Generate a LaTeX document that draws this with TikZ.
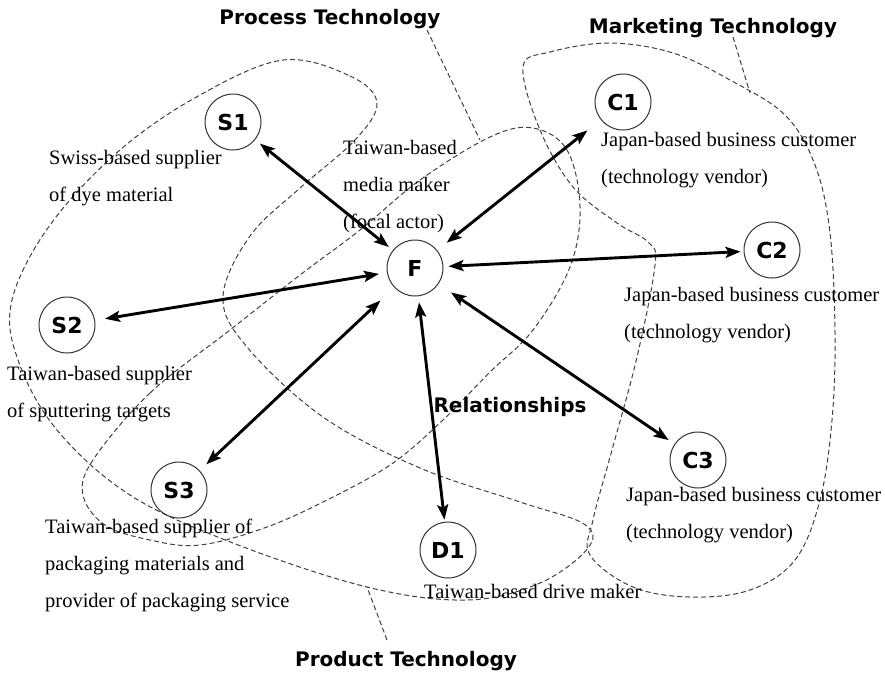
\documentclass[tikz,border=0pt]{standalone}
\usepackage{fontspec}
\setmainfont{Liberation Serif}
\setsansfont{DejaVu Sans}
\usetikzlibrary{arrows.meta}
\begin{document}
\begin{tikzpicture}[x=1pt,y=-1pt,
  actor/.style={circle,draw=black!80,line width=1pt,minimum size=56pt,inner sep=0pt,font=\fontsize{22}{22}\selectfont\sffamily\bfseries},
  desc/.style={anchor=base west,align=left,inner sep=0pt,font=\fontsize{20.5}{37}\selectfont},
  area/.style={draw=black!75,line width=1pt,dash pattern=on 5pt off 3pt},
  title/.style={anchor=base,inner sep=0pt,font=\fontsize{20}{20}\selectfont\sffamily\bfseries},
  rel/.style={line width=2.9pt,{Stealth[length=15pt,width=11pt,inset=3pt]}-{Stealth[length=15pt,width=11pt,inset=3pt]}}
]
\useasboundingbox (0,0) rectangle (885,672);

% technology areas
\path[area] plot[smooth cycle,tension=0.6] coordinates {
  (283,60) (350,76) (377,103) (355,140) (300,188) (250,236) (223,297) (247,347)
  (323,417) (420,468) (520,502) (584,524) (588,548) (540,583) (467,600) (367,587)
  (233,543) (130,495) (57,430) (18,360) (12,300) (50,225) (120,150) (200,95)};
\path[area] plot[smooth cycle,tension=0.6] coordinates {
  (93,460) (150,393) (230,330) (300,275) (360,230) (420,180) (490,137) (533,128)
  (567,150) (580,207) (570,267) (533,330) (490,372) (443,420) (393,463) (333,497)
  (267,527) (200,545) (150,540) (105,525) (83,495)};
\path[area] plot[smooth cycle,tension=0.6] coordinates {
  (523,67) (540,130) (573,187) (617,223) (648,242) (655,265) (637,357) (612,450)
  (593,520) (590,555) (633,587) (690,597) (750,590) (795,560) (820,500) (832,420)
  (835,333) (830,233) (815,165) (785,115) (730,80) (673,53) (610,43) (550,52)};

% titles and leader lines
\node[title] (tproc) at (330,24) {Process Technology};
\node[title] (tmark) at (713,33) {Marketing Technology};
\node[title] (tprod) at (406,666) {Product Technology};
\node[title] (trel) at (510,412) {Relationships};
\coordinate (lproc) at (480,140);
\coordinate (lmark) at (750,93);
\coordinate (lprod) at (367,587);
\draw[area] (427,30) -- (lproc);
\draw[area] (733,37) -- (lmark);
\draw[area] (387,640) -- (lprod);

% actors
\node[actor] (F) at (415,268) {F};
\node[actor] (S1) at (233,122) {S1};
\node[actor] (S2) at (67,325) {S2};
\node[actor] (S3) at (179,490) {S3};
\node[actor] (D1) at (448,550) {D1};
\node[actor] (C1) at (623,102) {C1};
\node[actor] (C2) at (772,250) {C2};
\node[actor] (C3) at (698,460) {C3};

% descriptions (anchor = baseline of last line)
\node[desc] (dS1) at (49,201) {Swiss-based supplier\\of dye material};
\node[desc] (dF) at (343,228) {Taiwan-based\\media maker\\(focal actor)};
\node[desc] (dC1) at (601,183) {Japan-based business customer\\(technology vendor)};
\node[desc] (dC2) at (624,338) {Japan-based business customer\\(technology vendor)};
\node[desc] (dS2) at (7,417) {Taiwan-based supplier\\of sputtering targets};
\node[desc] (dS3) at (45,607) {Taiwan-based supplier of\\packaging materials and\\provider of packaging service};
\node[desc] (dC3) at (626,538) {Japan-based business customer\\(technology vendor)};
\node[desc] (dD1) at (424,598) {Taiwan-based drive maker};

% relationships
\draw[rel,shorten <=5pt,shorten >=6pt] (F) -- (S1);
\draw[rel,shorten <=12pt,shorten >=17pt] (F) -- (C1);
\draw[rel,shorten <=5pt,shorten >=3pt] (F) -- (C2);
\draw[rel,shorten <=8pt,shorten >=10pt] (F) -- (S2);
\draw[rel,shorten <=19pt,shorten >=9pt] (F) -- (S3);
\draw[rel,shorten <=6pt,shorten >=2pt] (F) -- (D1);
\draw[rel,shorten <=15pt,shorten >=7pt] (F) -- (C3);
\end{tikzpicture}
\end{document}
